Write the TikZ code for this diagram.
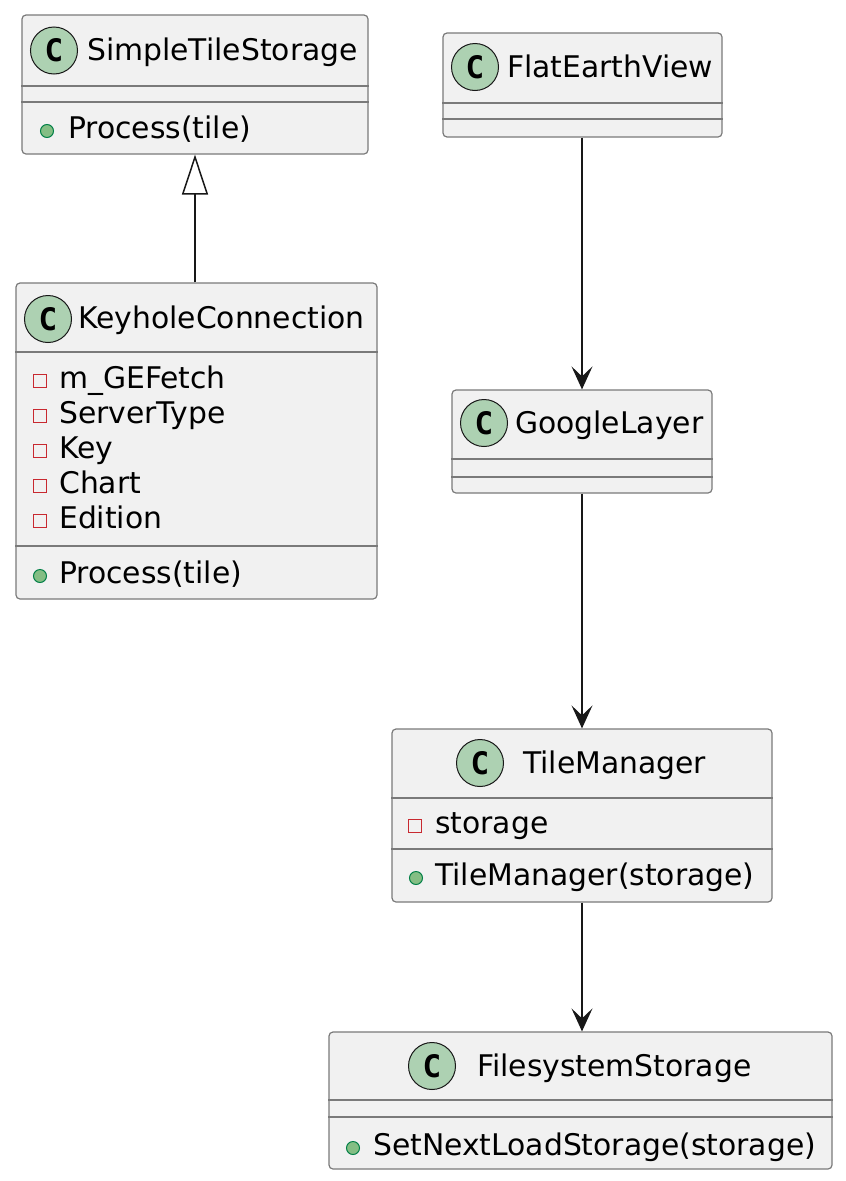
\documentclass[tikz,border=0pt]{standalone}
\usepackage{fontspec}
\setmainfont{DejaVu Sans}
\newfontfamily\iconfont{DejaVu Sans Mono}
\usetikzlibrary{arrows.meta}
\definecolor{boxfill}{HTML}{F1F1F1}
\definecolor{boxline}{HTML}{7A7A7A}
\definecolor{iconfill}{HTML}{ADD1B2}
\definecolor{privred}{HTML}{C82930}
\definecolor{pubfill}{HTML}{84BE84}
\definecolor{publine}{HTML}{038048}
\definecolor{linkcol}{HTML}{181818}
\tikzset{
  classbox/.style={draw=boxline, fill=boxfill, line width=1.2pt, rounded corners=4pt, inner sep=0pt},
  sepline/.style={draw=boxline, line width=1.2pt},
  classicon/.style={circle, draw=linkcol, fill=iconfill, line width=1pt, minimum size=47pt, inner sep=0pt,
    font=\iconfont\bfseries\fontsize{31}{31}\selectfont},
  txt/.style={anchor=base west, inner sep=0pt, font=\fontsize{29.8}{36}\selectfont},
  priv/.style={rectangle, draw=privred, line width=1.2pt, minimum size=13pt, inner sep=0pt},
  pub/.style={circle, draw=publine, fill=pubfill, line width=1pt, minimum size=13pt, inner sep=0pt},
  link/.style={draw=linkcol, line width=1.5pt, -{Stealth[length=23pt,width=21pt,inset=10pt]}},
  inherit/.style={draw=linkcol, line width=1.5pt, -{Triangle[open,length=40pt,width=26pt,fill=white]}}
}

\begin{document}
\begin{tikzpicture}[x=1pt,y=-1pt]
  \useasboundingbox[fill=white] (0,0) rectangle (846,1181);

  %%%%% BOXES %%%%%
  \node[classbox, minimum width=346pt, minimum height=139pt] (simple) at (195,84.5) {};
  \node[classbox, minimum width=361pt, minimum height=316pt] (keyhole) at (196.5,441) {};
  \node[classbox, minimum width=279pt, minimum height=104pt] (flat) at (582.5,85) {};
  \node[classbox, minimum width=260pt, minimum height=103pt] (google) at (582,441.5) {};
  \node[classbox, minimum width=380pt, minimum height=173pt] (tilemgr) at (582,815.5) {};
  \node[classbox, minimum width=503pt, minimum height=137pt] (filesys) at (580.5,1100.5) {};

  %%%%% SimpleTileStorage %%%%%
  \node[classicon] (simpleC) at (54,50.5) {C};
  \node[txt] (simpleT) at (87,60) {SimpleTileStorage};
  \draw[sepline] (simple.west |- 0,86) -- (simple.east |- 0,86);
  \draw[sepline] (simple.west |- 0,102) -- (simple.east |- 0,102);
  \node[pub] (simpleM) at (47,131) {};
  \node[txt] (simpleP) at (68,138) {Process(tile)};

  %%%%% KeyholeConnection %%%%%
  \node[classicon] (keyholeC) at (48,319) {C};
  \node[txt] (keyholeT) at (78,328) {KeyholeConnection};
  \draw[sepline] (keyhole.west |- 0,352) -- (keyhole.east |- 0,352);
  \foreach \name [count=\i] in {m\_GEFetch, ServerType, Key, Chart, Edition} {
    \node[priv] (kmark\i) at (40,{381+35*(\i-1)}) {};
    \node[txt] (kattr\i) at (59,{388+35*(\i-1)}) {\name};
  }
  \draw[sepline] (keyhole.west |- 0,546) -- (keyhole.east |- 0,546);
  \node[pub] (keyholeM) at (40,576) {};
  \node[txt] (keyholeP) at (59,583) {Process(tile)};

  %%%%% FlatEarthView %%%%%
  \node[classicon] (flatC) at (475,67) {C};
  \node[txt] (flatT) at (507,77) {FlatEarthView};
  \draw[sepline] (flat.west |- 0,103) -- (flat.east |- 0,103);
  \draw[sepline] (flat.west |- 0,119) -- (flat.east |- 0,119);

  %%%%% GoogleLayer %%%%%
  \node[classicon] (googleC) at (484,423) {C};
  \node[txt] (googleT) at (515,433) {GoogleLayer};
  \draw[sepline] (google.west |- 0,459) -- (google.east |- 0,459);
  \draw[sepline] (google.west |- 0,477) -- (google.east |- 0,477);

  %%%%% TileManager %%%%%
  \node[classicon] (tilemgrC) at (480,763) {C};
  \node[txt] (tilemgrT) at (523,773) {TileManager};
  \draw[sepline] (tilemgr.west |- 0,798) -- (tilemgr.east |- 0,798);
  \node[priv] (tilemgrA) at (415,826) {};
  \node[txt] (tilemgrS) at (435,833) {storage};
  \draw[sepline] (tilemgr.west |- 0,849) -- (tilemgr.east |- 0,849);
  \node[pub] (tilemgrM) at (416,878) {};
  \node[txt] (tilemgrP) at (435,885) {TileManager(storage)};

  %%%%% FilesystemStorage %%%%%
  \node[classicon] (filesysC) at (432,1066) {C};
  \node[txt] (filesysT) at (477,1076) {FilesystemStorage};
  \draw[sepline] (filesys.west |- 0,1100) -- (filesys.east |- 0,1100);
  \draw[sepline] (filesys.west |- 0,1117) -- (filesys.east |- 0,1117);
  \node[pub] (filesysM) at (353,1148) {};
  \node[txt] (filesysP) at (373,1155) {SetNextLoadStorage(storage)};

  %%%%% LINKS %%%%%
  \draw[inherit] (simple.south |- keyhole.north) -- (simple.south);
  \draw[link] (google.north |- flat.south) -- (google.north);
  \draw[link] (google.south) -- (google.south |- tilemgr.north);
  \draw[link] (tilemgr.south) -- (tilemgr.south |- filesys.north);
\end{tikzpicture}
\end{document}
